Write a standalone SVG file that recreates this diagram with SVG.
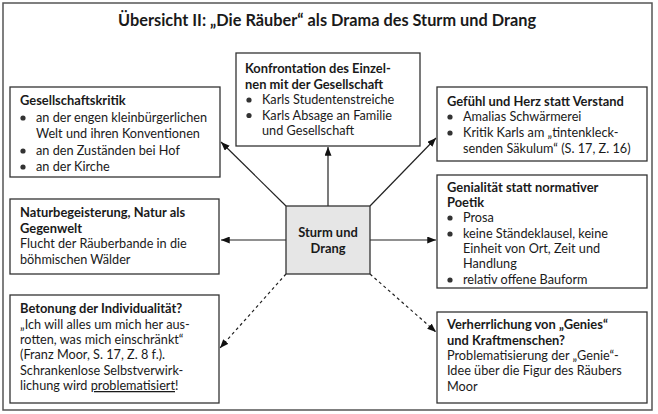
<svg xmlns="http://www.w3.org/2000/svg" width="658" height="414" viewBox="0 0 658 414">
<defs>
<style>
text{font-family:Lato,"Open Sans","Liberation Sans",sans-serif;font-size:12.7px;fill:#1a1a1a}
.h{font-weight:bold;font-size:12.9px}
.title{font-weight:bold;font-size:17px}
.box{fill:#fff;stroke:#333;stroke-width:1.3}
.center{fill:#e6e6e6;stroke:#333;stroke-width:1.3}
.c{stroke:#222;stroke-width:1.2;fill:none}
.d{stroke:#222;stroke-width:1.2;fill:none;stroke-dasharray:3 3}
.b{fill:#333}
</style>
<marker id="ah" viewBox="0 0 10 8" refX="10" refY="4" markerWidth="9" markerHeight="7" markerUnits="userSpaceOnUse" orient="auto">
<path d="M0,0 L10,4 L0,8 z" fill="#111"/>
</marker>
</defs>
<rect x="0" y="0" width="658" height="414" fill="#fff"/>
<rect x="3" y="3" width="649" height="407" fill="none" stroke="#555" stroke-width="1.5"/>
<text class="title" x="327" y="26" text-anchor="middle" textLength="418" lengthAdjust="spacingAndGlyphs">Übersicht II: „Die Räuber“ als Drama des Sturm und Drang</text>

<g id="connectors">
<line class="c" x1="328" y1="206" x2="328" y2="147" marker-end="url(#ah)"/>
<line class="c" x1="286" y1="206" x2="221" y2="142" marker-end="url(#ah)"/>
<line class="c" x1="370" y1="206" x2="436" y2="138" marker-end="url(#ah)"/>
<line class="c" x1="286" y1="240" x2="221" y2="240" marker-end="url(#ah)"/>
<line class="c" x1="370" y1="240" x2="436" y2="240" marker-end="url(#ah)"/>
<line class="d" x1="286" y1="274" x2="220" y2="348" marker-end="url(#ah)"/>
<line class="d" x1="370" y1="274" x2="436" y2="332" marker-end="url(#ah)"/>
</g>

<g id="center">
<rect class="center" x="286" y="206" width="84" height="68"/>
<text class="h" x="328" y="237" text-anchor="middle">Sturm und</text>
<text class="h" x="328" y="253" text-anchor="middle">Drang</text>
</g>

<g id="gesellschaftskritik">
<rect class="box" x="10" y="87" width="210" height="90"/>
<text class="h" x="20" y="105">Gesellschaftskritik</text>
<circle class="b" cx="23" cy="118" r="2.6"/>
<text x="36" y="122">an der engen kleinbürgerlichen</text>
<text x="36" y="138">Welt und ihren Konventionen</text>
<circle class="b" cx="23" cy="151" r="2.6"/>
<text x="36" y="155">an den Zuständen bei Hof</text>
<circle class="b" cx="23" cy="167" r="2.6"/>
<text x="36" y="171">an der Kirche</text>
</g>

<g id="konfrontation">
<rect class="box" x="236" y="53" width="184" height="93"/>
<text class="h" x="245" y="73">Konfrontation des Einzel-</text>
<text class="h" x="245" y="88.5">nen mit der Gesellschaft</text>
<circle class="b" cx="249" cy="100" r="2.6"/>
<text x="262" y="104">Karls Studentenstreiche</text>
<circle class="b" cx="249" cy="115.5" r="2.6"/>
<text x="262" y="119.5">Karls Absage an Familie</text>
<text x="262" y="135">und Gesellschaft</text>
</g>

<g id="gefuehl">
<rect class="box" x="437" y="87" width="210" height="74"/>
<text class="h" x="447" y="105.5">Gefühl und Herz statt Verstand</text>
<circle class="b" cx="450" cy="117" r="2.6"/>
<text x="463" y="121">Amalias Schwärmerei</text>
<circle class="b" cx="450" cy="133" r="2.6"/>
<text x="463" y="137">Kritik Karls am „tintenkleck-</text>
<text x="463" y="152.5">senden Säkulum“ (S. 17, Z. 16)</text>
</g>

<g id="natur">
<rect class="box" x="10" y="199" width="209" height="75"/>
<text class="h" x="20" y="217">Naturbegeisterung, Natur als</text>
<text class="h" x="20" y="232.5">Gegenwelt</text>
<text x="20" y="248">Flucht der Räuberbande in die</text>
<text x="20" y="263.5">böhmischen Wälder</text>
</g>

<g id="genialitaet">
<rect class="box" x="437" y="175" width="210" height="113"/>
<text class="h" x="447" y="192">Genialität statt normativer</text>
<text class="h" x="447" y="207">Poetik</text>
<circle class="b" cx="450" cy="218" r="2.6"/>
<text x="463" y="222">Prosa</text>
<circle class="b" cx="450" cy="234" r="2.6"/>
<text x="463" y="238">keine Ständeklausel, keine</text>
<text x="463" y="253">Einheit von Ort, Zeit und</text>
<text x="463" y="268">Handlung</text>
<circle class="b" cx="450" cy="280" r="2.6"/>
<text x="463" y="284">relativ offene Bauform</text>
</g>

<g id="betonung">
<rect class="box" x="10" y="295" width="209" height="108"/>
<text class="h" x="20" y="313">Betonung der Individualität?</text>
<text x="20" y="329">„Ich will alles um mich her aus-</text>
<text x="20" y="344">rotten, was mich einschränkt“</text>
<text x="20" y="359">(Franz Moor, S. 17, Z. 8 f.).</text>
<text x="20" y="375">Schrankenlose Selbstverwirk-</text>
<text x="20" y="390">lichung wird <tspan text-decoration="underline">problematisiert</tspan>!</text>
</g>

<g id="verherrlichung">
<rect class="box" x="437" y="312" width="210" height="91"/>
<text class="h" x="447" y="329">Verherrlichung von „Genies“</text>
<text class="h" x="447" y="345">und Kraftmenschen?</text>
<text x="447" y="360">Problematisierung der „Genie“-</text>
<text x="447" y="375">Idee über die Figur des Räubers</text>
<text x="447" y="391">Moor</text>
</g>
</svg>
